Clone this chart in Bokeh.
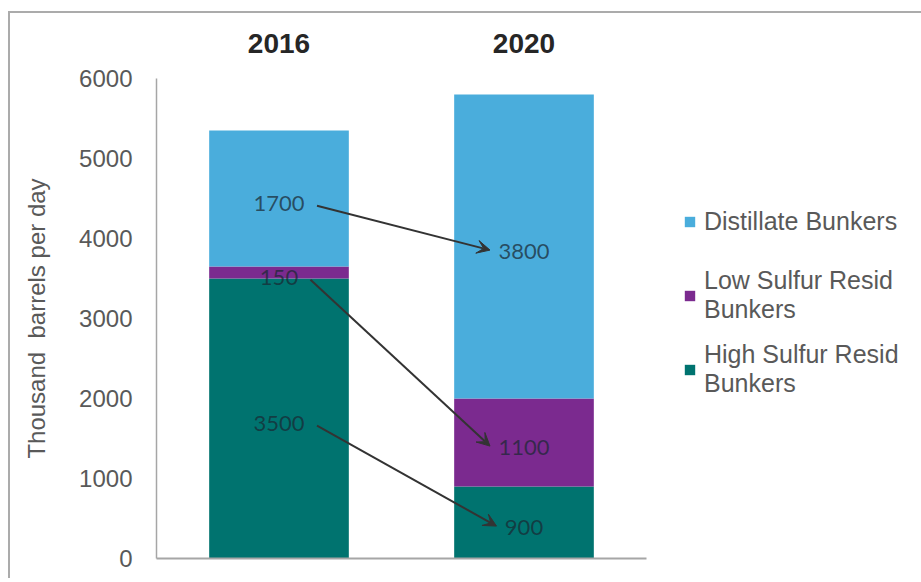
import numpy as np
from bokeh.plotting import figure
from bokeh.models import (Range1d, LinearAxis, FixedTicker, Legend, LegendItem,
                          Arrow, VeeHead, ColumnDataSource)
from bokeh.core.properties import value
from bokeh.embed import file_html
from bokeh.resources import INLINE

# ---- data ----
years = ["2016", "2020"]
high_sulfur = [3500, 900]
low_sulfur = [150, 1100]
distillate = [1700, 3800]
series_names = ["High Sulfur Resid\nBunkers", "Low Sulfur Resid\nBunkers", "Distillate Bunkers"]
series_colors = ["#00736F", "#7B2A8F", "#4AADDC"]
y_ticks = [0, 1000, 2000, 3000, 4000, 5000, 6000]

xc = np.arange(len(years)) + 0.5
src = ColumnDataSource(dict(x=xc, high=high_sulfur, low=low_sulfur, dist=distillate))

p = figure(x_range=Range1d(0, len(years)), y_range=Range1d(0, 6000),
           frame_width=490, frame_height=480,
           min_border_left=146, min_border_right=260, min_border_top=65, min_border_bottom=20,
           output_backend="svg", toolbar_location=None,
           x_axis_location=None, y_axis_location="left",
           background_fill_color="white", border_fill_color="white")
p.styles = {"border-top": "2px solid #ABABAB", "border-left": "2px solid #ABABAB",
            "margin-top": "11px", "margin-left": "8px"}
p.outline_line_color = None
p.xgrid.visible = False
p.ygrid.visible = False

rs = p.vbar_stack(["high", "low", "dist"], x="x", width=0.57, color=series_colors,
                  line_color=None, source=src)

# y axis
ya = p.yaxis[0]
ya.ticker = FixedTicker(ticks=y_ticks)
ya.axis_line_color = "#A6A6A6"
ya.axis_line_width = 1.5
ya.major_tick_line_color = None
ya.minor_tick_line_color = None
ya.major_label_text_font = "Liberation Sans"
ya.major_label_text_font_size = "24px"
ya.major_label_text_color = "#595959"
ya.major_label_standoff = 18
ya.axis_label = "Thousand\u00a0\u00a0barrels\u00a0per\u00a0day"
ya.axis_label_text_font = "Liberation Sans"
ya.axis_label_text_font_size = "24px"
ya.axis_label_text_font_style = "normal"
ya.axis_label_text_color = "#595959"
ya.axis_label_standoff = 26

# top axis with year labels
top = LinearAxis(ticker=FixedTicker(ticks=list(xc)),
                 major_label_overrides={float(x): y for x, y in zip(xc, years)})
top.axis_line_color = None
top.major_tick_line_color = None
top.minor_tick_line_color = None
top.major_label_text_font = "Liberation Sans"
top.major_label_text_font_size = "28px"
top.major_label_text_font_style = "bold"
top.major_label_text_color = "#262626"
top.major_label_standoff = 20
p.add_layout(top, "above")

# bottom axis line only
bot = LinearAxis(ticker=FixedTicker(ticks=[]))
bot.axis_line_color = "#A6A6A6"
bot.axis_line_width = 2
bot.major_tick_line_color = None
bot.minor_tick_line_color = None
bot.major_label_text_font_size = "0px"
p.add_layout(bot, "below")

# value labels at segment midpoints
stack = np.array([high_sulfur, low_sulfur, distillate], dtype=float)
tops = np.cumsum(stack, axis=0)
mids = tops - stack / 2.0
lab = ColumnDataSource(dict(
    x=np.repeat(xc[None, :], 3, axis=0).ravel(),
    y=mids.ravel(),
    t=[str(int(v)) for v in stack.ravel()]))
p.text(x="x", y="y", text="t", source=lab, text_font=value("Lato"),
       text_font_size="22px", text_color="#1A2833", text_alpha=0.72,
       text_align="center", text_baseline="middle", y_offset=5)

# arrows between the same series of the two years
ppu = 245.0
for k in range(3):
    w0 = len(str(int(stack[k, 0]))) * 13.0
    w1 = len(str(int(stack[k, 1]))) * 13.0
    p.add_layout(Arrow(
        end=VeeHead(size=13, fill_color="#333333", line_color="#333333"),
        x_start=xc[0] + (w0 / 2 + 12) / ppu, y_start=mids[k, 0] - 90,
        x_end=xc[1] - (w1 / 2 + 8) / ppu, y_end=mids[k, 1] - 45,
        line_color="#333333", line_width=2))

legend = Legend(items=[LegendItem(label=series_names[k], renderers=[rs[k]]) for k in (2, 1, 0)],
                location=(37, 160))
legend.background_fill_alpha = 0
legend.border_line_color = None
legend.padding = 0
legend.margin = 0
legend.spacing = 16
legend.label_height = 58
legend.glyph_width = 13
legend.glyph_height = 13
legend.label_standoff = 8
legend.label_text_font = "Liberation Sans"
legend.label_text_font_size = "25px"
legend.label_text_color = "#595959"
legend.label_text_line_height = 1.3
p.add_layout(legend, "right")

open("out.html", "w").write(file_html(p, INLINE))
